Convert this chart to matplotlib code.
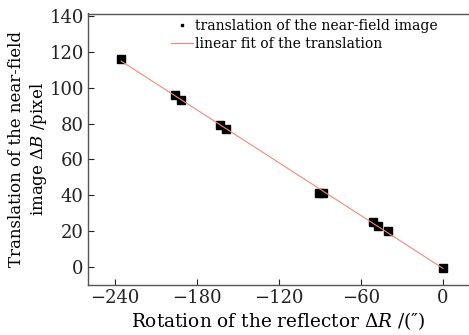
import numpy as np
import matplotlib
matplotlib.use('Agg')
import matplotlib.pyplot as plt

# 數據
rotation = [-235.5, -196.5, -191.5, -163, -158.5, -90.5, -87.5, -51, -47.5, -40.5, 0]
translation = [116, 96, 93, 79, 77, 41, 41, 25, 23, 20, -0.5]
xticks = [-240, -180, -120, -60, 0]
yticks = [0, 20, 40, 60, 80, 100, 120, 140]

plt.rcParams['font.family'] = ['DejaVu Serif']
plt.rcParams['mathtext.fontset'] = 'dejavuserif'

fig = plt.figure(figsize=(4.69, 3.35), dpi=100)
ax = fig.add_axes([88/469, 50/335, 1 - 88/469, (285 - 13.5)/335])

# 線性擬合
k, b = np.polyfit(rotation, translation, 1)
xfit = np.array([rotation[0], rotation[-1]])
ax.plot(rotation, translation, 's', color='black', markersize=5.3,
        label='translation of the near-field image')
ax.plot(xfit, k*xfit + b, '-', color='#f08a7a', linewidth=0.8,
        label='linear fit of the translation')

ax.set_xlim(-259.8, 19)
ax.set_ylim(-10.2, 141.5)
ax.set_xticks(xticks)
ax.set_xticklabels(['\u2212' + str(-t) if t < 0 else str(t) for t in xticks])
ax.set_yticks(yticks)
ax.tick_params(direction='in', length=4, width=0.8, labelsize=13, colors='#222222', pad=3)
for s in ['left', 'bottom', 'top']:
    ax.spines[s].set_color('#555555')
    ax.spines[s].set_linewidth(1.0)
ax.spines['right'].set_visible(False)

ax.set_xlabel('Rotation of the reflector $\\Delta R$ /(\u2033)', fontsize=13.3, labelpad=2)
ax.set_ylabel('Translation of the near-field\nimage $\\Delta B$ /pixel', fontsize=12,
              linespacing=1.25, labelpad=0)

leg = ax.legend(loc='upper left', bbox_to_anchor=(0.185, 1.025), frameon=False, fontsize=10,
                handlelength=1.6, handletextpad=0.15, labelspacing=0.25, markerscale=0.4)

fig.savefig('out.png', dpi=100)
